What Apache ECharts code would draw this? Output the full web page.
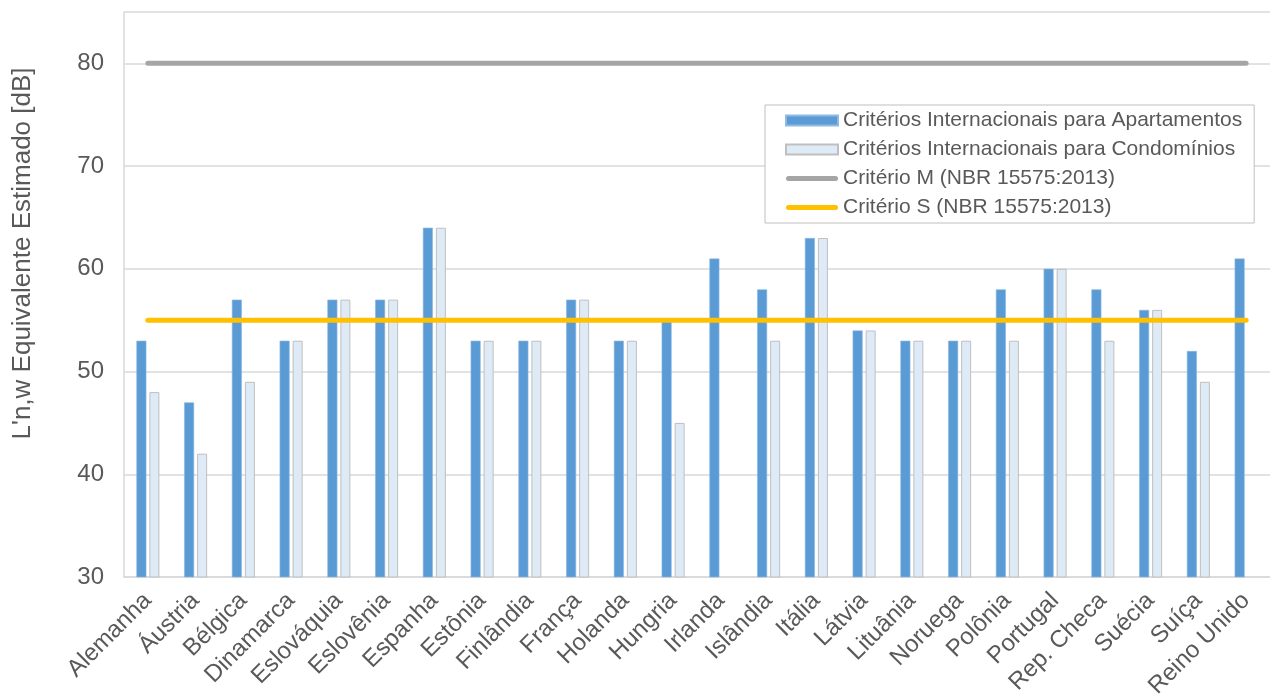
<!DOCTYPE html>
<html>
<head>
<meta charset="utf-8">
<script src="https://cdn.jsdelivr.net/npm/echarts@6/dist/echarts.min.js"></script>
<style>
  html, body { margin: 0; padding: 0; background: #ffffff; }
  #chart { width: 1270px; height: 700px; }
</style>
</head>
<body>
<div id="chart"></div>
<script>
// Countries on the horizontal axis
var countries = ['Alemanha', 'Áustria', 'Bélgica', 'Dinamarca', 'Eslováquia', 'Eslovênia',
  'Espanha', 'Estônia', 'Finlândia', 'França', 'Holanda', 'Hungria', 'Irlanda', 'Islândia',
  'Itália', 'Látvia', 'Lituânia', 'Noruega', 'Polônia', 'Portugal', 'Rep. Checa', 'Suécia',
  'Suíça', 'Reino Unido'];

// Estimated L'n,w equivalent values [dB]
var apartamentos = [53, 47, 57, 53, 57, 57, 64, 53, 53, 57, 53, 55, 61, 58, 63, 54, 53, 53, 58, 60, 58, 56, 52, 61];
var condominios  = [48, 42, 49, 53, 57, 57, 64, 53, 53, 57, 53, 45, null, 53, 63, 54, 53, 53, 53, 60, 53, 56, 49, null];

// NBR 15575:2013 criteria levels
var criterioM = [80, 80, 80, 80, 80, 80, 80, 80, 80, 80, 80, 80, 80, 80, 80, 80, 80, 80, 80, 80, 80, 80, 80, 80];
var criterioS = [55, 55, 55, 55, 55, 55, 55, 55, 55, 55, 55, 55, 55, 55, 55, 55, 55, 55, 55, 55, 55, 55, 55, 55];

var seriesNames = [
  'Critérios Internacionais para Apartamentos',
  'Critérios Internacionais para Condomínios',
  'Critério M (NBR 15575:2013)',
  'Critério S (NBR 15575:2013)'
];

var yAxisTitle = "L'n,w Equivalente Estimado [dB]";

var textColor = '#595959';
var fontFamily = '"Liberation Sans", Arial, sans-serif';

// Thick rounded stroke used as the legend icon of the criterion lines
var lineIcon = 'path://M2.5,0 H49.5 A2.5,2.5 0 0 1 49.5,5 H2.5 A2.5,2.5 0 0 1 2.5,0 Z';

var chart = echarts.init(document.getElementById('chart'), null, { renderer: 'canvas' });

chart.setOption({
  animation: false,
  backgroundColor: '#ffffff',
  textStyle: { fontFamily: fontFamily, color: textColor },
  grid: { left: 124, right: 0, top: 12, bottom: 123, containLabel: false, outerBoundsMode: 'none' },
  legend: {
    orient: 'vertical',
    left: 765,
    top: 105,
    padding: [5, 12, 5, 20],
    itemGap: 8,
    itemWidth: 52,
    itemHeight: 10,
    backgroundColor: '#ffffff',
    borderColor: '#BFBFBF',
    borderWidth: 1,
    borderRadius: 0,
    data: [
      { name: seriesNames[0], icon: 'rect' },
      { name: seriesNames[1], icon: 'rect' },
      { name: seriesNames[2], icon: lineIcon },
      { name: seriesNames[3], icon: lineIcon }
    ],
    textStyle: { fontSize: 21, lineHeight: 21, color: textColor, fontFamily: fontFamily }
  },
  xAxis: {
    type: 'category',
    data: countries,
    boundaryGap: true,
    axisLine: { lineStyle: { color: '#D9D9D9', width: 1.5 } },
    axisTick: { show: false },
    axisLabel: {
      rotate: 45,
      interval: 0,
      margin: 20,
      fontSize: 24,
      color: textColor,
      fontFamily: fontFamily
    }
  },
  yAxis: {
    type: 'value',
    min: 30,
    max: 85,
    interval: 10,
    name: yAxisTitle,
    nameLocation: 'middle',
    nameGap: 88,
    nameRotate: 90,
    nameTextStyle: { fontSize: 26, color: textColor, fontFamily: fontFamily, padding: [0, 0, 0, 82] },
    axisLine: { show: true, lineStyle: { color: '#D9D9D9', width: 1.5 } },
    axisTick: { show: false },
    axisLabel: { fontSize: 24, color: textColor, margin: 20, showMaxLabel: false, fontFamily: fontFamily },
    splitLine: { lineStyle: { color: '#D9D9D9', width: 1.5 } }
  },
  series: [
    {
      name: seriesNames[0],
      type: 'bar',
      data: apartamentos,
      barWidth: 10,
      barGap: '30%',
      itemStyle: { color: '#5B9BD5', borderColor: '#8DB9E4', borderWidth: 0.6 }
    },
    {
      name: seriesNames[1],
      type: 'bar',
      data: condominios,
      barWidth: 10,
      itemStyle: { color: '#DEEBF7', borderColor: '#BFBFBF', borderWidth: 1 }
    },
    {
      name: seriesNames[2],
      type: 'line',
      data: criterioM,
      symbol: 'none',
      z: 5,
      lineStyle: { color: '#A5A5A5', width: 5, cap: 'round' },
      itemStyle: { color: '#A5A5A5' }
    },
    {
      name: seriesNames[3],
      type: 'line',
      data: criterioS,
      symbol: 'none',
      z: 5,
      lineStyle: { color: '#FFC000', width: 5, cap: 'round' },
      itemStyle: { color: '#FFC000' }
    }
  ]
});
</script>
</body>
</html>
